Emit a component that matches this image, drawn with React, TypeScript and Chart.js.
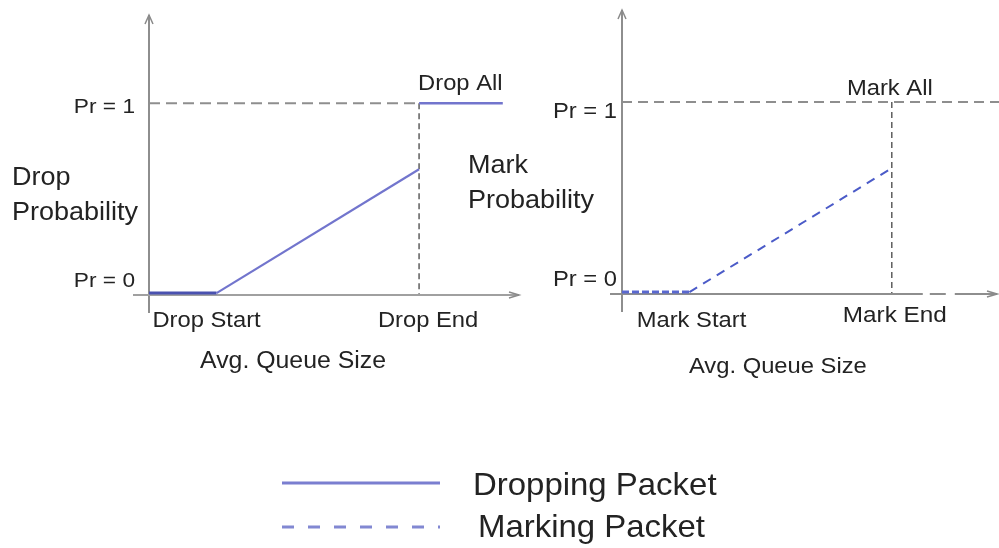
import React, { useEffect, useRef } from "react";
import { Chart, registerables } from "chart.js";

Chart.register(...registerables);

// ---- data ----
const dropQueue = [0, 1, 4];
const dropProb = [0.01, 0.01, 0.656];
const dropAllQueue = [4, 5.24];
const dropAllProb = [1, 1];
const markQueue = [0, 1, 4];
const markProb = [0.01, 0.01, 0.656];
const probTickValues = [0, 1];
const probTickLabels = ["Pr = 0", "Pr = 1"];
const dropThresholds = [1, 4];
const dropThresholdLabels = ["Drop Start", "Drop End"];
const markThresholds = [1, 4];
const markThresholdLabels = ["Mark Start", "Mark End"];
const dropAllLabel = "Drop All";
const markAllLabel = "Mark All";
const xAxisTitle = "Avg. Queue Size";
const dropTitle = ["Drop", "Probability"];
const markTitle = ["Mark", "Probability"];
const legendLabels = ["Dropping Packet", "Marking Packet"];

const FONT = '"Liberation Sans", Arial, Helvetica, sans-serif';
const TEXT = "#232323";
const SOLID_BLUE = "#7275cd";
const SOLID_BLUE_DARK = "#4a52b0";
const DASH_BLUE = "#4b5bc8";

function zip(xs: number[], ys: number[]) {
  return xs.map((x, i) => ({ x, y: ys[i] }));
}

function txt(
  ctx: CanvasRenderingContext2D,
  s: string,
  x: number,
  y: number,
  size: number,
  align: "left" | "center" | "right" = "left",
  sx = 1.08
) {
  ctx.save();
  ctx.font = `${size}px ${FONT}`;
  ctx.fillStyle = TEXT;
  ctx.textBaseline = "alphabetic";
  ctx.textAlign = "left";
  const w = ctx.measureText(s).width * sx;
  const lx = align === "left" ? x : align === "center" ? x - w / 2 : x - w;
  ctx.translate(lx, y);
  ctx.scale(sx, 1);
  ctx.fillText(s, 0, 0);
  ctx.restore();
}

function seg(
  ctx: CanvasRenderingContext2D,
  x1: number,
  y1: number,
  x2: number,
  y2: number,
  color: string,
  width: number,
  dash: number[] = []
) {
  ctx.save();
  ctx.strokeStyle = color;
  ctx.lineWidth = width;
  ctx.setLineDash(dash);
  ctx.beginPath();
  ctx.moveTo(x1, y1);
  ctx.lineTo(x2, y2);
  ctx.stroke();
  ctx.restore();
}

function arrowUp(ctx: CanvasRenderingContext2D, x: number, y: number) {
  ctx.save();
  ctx.strokeStyle = "#8a8a8a";
  ctx.lineWidth = 1.5;
  ctx.beginPath();
  ctx.moveTo(x - 4, y + 9);
  ctx.lineTo(x, y);
  ctx.lineTo(x + 4, y + 9);
  ctx.stroke();
  ctx.restore();
}

function arrowRight(ctx: CanvasRenderingContext2D, x: number, y: number) {
  ctx.save();
  ctx.strokeStyle = "#8a8a8a";
  ctx.lineWidth = 1.5;
  ctx.beginPath();
  ctx.moveTo(x - 10, y - 3);
  ctx.lineTo(x, y);
  ctx.lineTo(x - 10, y + 3);
  ctx.stroke();
  ctx.restore();
}

const leftDecor = {
  id: "leftDecor",
  beforeDatasetsDraw(chart: any) {
    const { ctx, chartArea } = chart;
    const { x, y } = chart.scales;
    const x0 = x.getPixelForValue(0);
    const y0 = y.getPixelForValue(probTickValues[0]);
    const y1 = y.getPixelForValue(probTickValues[1]);
    const xe = x.getPixelForValue(dropThresholds[1]);
    seg(ctx, x0, y1, xe, y1, "#8e8e8e", 2, [11, 6]);
    seg(ctx, xe, y1, xe, y0, "#5e5e5e", 1.5, [6, 4]);
    seg(ctx, chartArea.left, y0 + 18, chartArea.left, chartArea.top, "#8e8e8e", 2);
    arrowUp(ctx, chartArea.left, chartArea.top);
    seg(ctx, chartArea.left - 16, y0, chartArea.right, y0, "#a0a0a0", 2);
    arrowRight(ctx, chartArea.right, y0);
  },
  afterDraw(chart: any) {
    const { ctx } = chart;
    const { x, y } = chart.scales;
    const x0 = x.getPixelForValue(0);
    const y0 = y.getPixelForValue(probTickValues[0]);
    const y1 = y.getPixelForValue(probTickValues[1]);
    const xs = x.getPixelForValue(dropThresholds[0]);
    const xe = x.getPixelForValue(dropThresholds[1]);
    txt(ctx, probTickLabels[1], x0 - 14, y1 + 10, 21, "right");
    txt(ctx, probTickLabels[0], x0 - 14, y0 - 8, 21, "right");
    txt(ctx, dropTitle[0], x0 - 137, 185, 25);
    txt(ctx, dropTitle[1], x0 - 137, 220, 25);
    txt(ctx, dropAllLabel, xe - 1, y1 - 13, 22);
    txt(ctx, dropThresholdLabels[0], xs - 10, y0 + 32, 22, "center");
    txt(ctx, dropThresholdLabels[1], xe + 9, y0 + 32, 22, "center");
    txt(ctx, xAxisTitle, (x0 + xe) / 2 + 9, y0 + 73, 23, "center");

    // legend
    seg(ctx, 282, 483, 440, 483, "#7a7ed0", 3);
    seg(ctx, 282, 527, 440, 527, "#8288d2", 3, [12, 14]);
    txt(ctx, legendLabels[0], 473, 495, 30.5);
    txt(ctx, legendLabels[1], 478, 537, 30.5);
  },
};

const rightDecor = {
  id: "rightDecor",
  beforeDatasetsDraw(chart: any) {
    const { ctx, chartArea } = chart;
    const { x, y } = chart.scales;
    const x0 = x.getPixelForValue(0);
    const y0 = y.getPixelForValue(probTickValues[0]);
    const y1 = y.getPixelForValue(probTickValues[1]);
    const xe = x.getPixelForValue(markThresholds[1]);
    seg(ctx, x0, y1, chartArea.right + 2, y1, "#6a6a6a", 1.5, [10, 6]);
    seg(ctx, xe, y1, xe, y0, "#5e5e5e", 1.5, [6, 4]);
    seg(ctx, chartArea.left, y0 + 18, chartArea.left, chartArea.top, "#8e8e8e", 2);
    arrowUp(ctx, chartArea.left, chartArea.top);
    seg(ctx, chartArea.left - 12, y0, xe + 31, y0, "#8e8e8e", 2);
    seg(ctx, xe + 38, y0, xe + 54, y0, "#8e8e8e", 2);
    seg(ctx, xe + 63, y0, chartArea.right, y0, "#8e8e8e", 2);
    arrowRight(ctx, chartArea.right, y0);
  },
  afterDraw(chart: any) {
    const { ctx } = chart;
    const { x, y } = chart.scales;
    const x0 = x.getPixelForValue(0);
    const y0 = y.getPixelForValue(probTickValues[0]);
    const y1 = y.getPixelForValue(probTickValues[1]);
    const xs = x.getPixelForValue(markThresholds[0]);
    const xe = x.getPixelForValue(markThresholds[1]);
    txt(ctx, probTickLabels[1], x0 - 5, y1 + 16, 22, "right");
    txt(ctx, probTickLabels[0], x0 - 5, y0 - 8, 22, "right");
    txt(ctx, markTitle[0], x0 - 154, 173, 25);
    txt(ctx, markTitle[1], x0 - 154, 208, 25);
    txt(ctx, markAllLabel, xe - 2, y1 - 7, 22, "center");
    txt(ctx, markThresholdLabels[0], xs + 2, y0 + 33, 22, "center");
    txt(ctx, markThresholdLabels[1], xe + 3, y0 + 28, 22.5, "center");
    txt(ctx, xAxisTitle, (x0 + xe) / 2 + 21, y0 + 79, 22, "center");
  },
};

function baseOptions(pad: any, xMax: number, yMax: number) {
  return {
    animation: false as const,
    responsive: false,
    maintainAspectRatio: false,
    layout: { padding: pad },
    events: [],
    scales: {
      x: { type: "linear" as const, min: 0, max: xMax, display: false },
      y: { type: "linear" as const, min: 0, max: yMax, display: false },
    },
    plugins: { legend: { display: false }, tooltip: { enabled: false } },
    elements: { point: { radius: 0 } },
  };
}

export default function App() {
  const leftRef = useRef<HTMLCanvasElement>(null);
  const rightRef = useRef<HTMLCanvasElement>(null);

  useEffect(() => {
    const left = new Chart(leftRef.current!, {
      type: "scatter",
      data: {
        datasets: [
          {
            label: legendLabels[0],
            data: zip(dropQueue, dropProb),
            showLine: true,
            borderColor: SOLID_BLUE,
            borderWidth: 2.2,
            segment: {
              borderColor: (c: any) =>
                c.p0.parsed.y === c.p1.parsed.y ? SOLID_BLUE_DARK : SOLID_BLUE,
              borderWidth: (c: any) => (c.p0.parsed.y === c.p1.parsed.y ? 3 : 2.2),
            },
          } as any,
          {
            label: dropAllLabel,
            data: zip(dropAllQueue, dropAllProb),
            showLine: true,
            borderColor: SOLID_BLUE,
            borderWidth: 2.5,
          },
        ],
      },
      options: baseOptions({ left: 149, top: 15, right: 480, bottom: 253 }, 5.48, 1.46) as any,
      plugins: [leftDecor],
    });

    const right = new Chart(rightRef.current!, {
      type: "scatter",
      data: {
        datasets: [
          {
            label: legendLabels[1],
            data: zip(markQueue, markProb),
            showLine: true,
            borderColor: DASH_BLUE,
            borderWidth: 2,
            borderDash: [9, 7],
            segment: {
              borderDash: (c: any) => (c.p0.parsed.y === c.p1.parsed.y ? [7, 3] : [9, 7]),
              borderColor: (c: any) =>
                c.p0.parsed.y === c.p1.parsed.y ? "#5a68cf" : DASH_BLUE,
              borderWidth: (c: any) => (c.p0.parsed.y === c.p1.parsed.y ? 3 : 2),
            },
          } as any,
        ],
      },
      options: baseOptions({ left: 622, top: 10, right: 2, bottom: 254 }, 5.56, 1.48) as any,
      plugins: [rightDecor],
    });

    return () => {
      left.destroy();
      right.destroy();
    };
  }, []);

  const cv: React.CSSProperties = {
    position: "absolute",
    left: 0,
    top: 0,
    width: 999,
    height: 548,
  };

  return (
    <div
      style={{
        position: "absolute",
        left: 0,
        top: 0,
        width: 999,
        height: 548,
        background: "#ffffff",
        overflow: "hidden",
      }}
    >
      <canvas ref={leftRef} width={999} height={548} style={cv} />
      <canvas ref={rightRef} width={999} height={548} style={cv} />
    </div>
  );
}
